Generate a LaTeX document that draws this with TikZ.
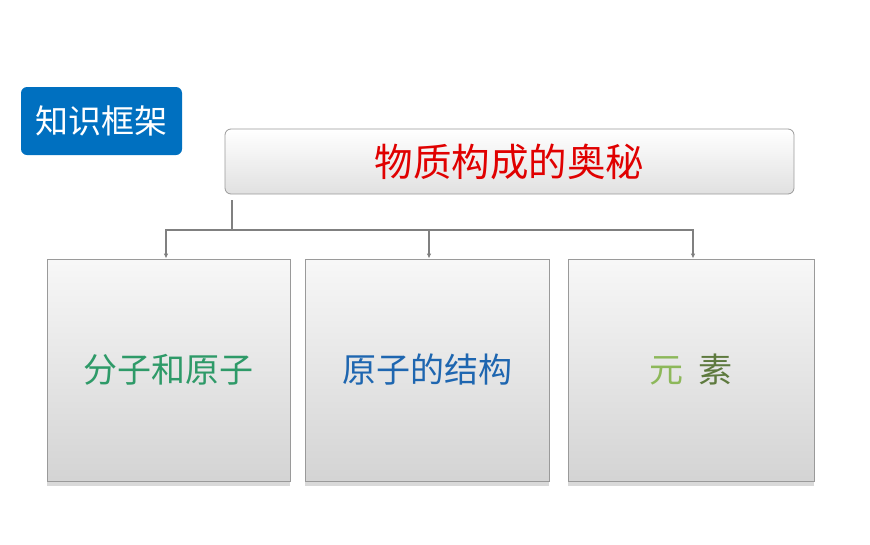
\documentclass[tikz,border=0pt]{standalone}
\usepackage{fontspec}
\setmainfont{Noto Sans CJK SC}
\usetikzlibrary{shadows,arrows.meta,shadings}
\definecolor{lblblue}{HTML}{0070C0}
\definecolor{titlered}{HTML}{E00000}
\definecolor{linegray}{HTML}{808080}
\definecolor{boxborder}{HTML}{9A9A9A}
\definecolor{txtgreen}{HTML}{2E9A68}
\definecolor{txtblue}{HTML}{1E66B0}
\definecolor{txtlight}{HTML}{8DB85A}
\definecolor{txtdark}{HTML}{5E7A3E}
\tikzset{
  labelbox/.style={fill=lblblue, rounded corners=6pt, minimum width=161pt, minimum height=68pt, text=white, font=\fontsize{33}{35}\selectfont, inner sep=0pt},
  titlebox/.style={draw=boxborder, line width=0.8pt, rounded corners=6pt, top color=white, bottom color=black!12, minimum width=569pt, minimum height=65pt, text=titlered, font=\fontsize{38.5}{41}\selectfont, inner sep=0pt},
  subbox/.style={draw=boxborder, line width=0.8pt, top color=black!3, bottom color=black!17, minimum height=222pt, inner sep=0pt, font=\fontsize{34}{37}\selectfont,
    drop shadow={shadow xshift=0pt, shadow yshift=-5pt, opacity=0.25, fill=black!60}},
  conn/.style={draw=linegray, line width=1.4pt},
  arr/.style={conn, -{Latex[length=5pt,width=4.5pt]}}
}
\begin{document}
\begin{tikzpicture}[x=1pt,y=-1pt]
\useasboundingbox (0,0) rectangle (870,544);
\node[labelbox] (lbl) at (101.5,121) {知识框架};
\node[titlebox] (title) at (509.5,161.5) {物质构成的奥秘};
\node[subbox, minimum width=243pt] (b1) at (168.5,370) {\textcolor{txtgreen}{分子和原子}};
\node[subbox, minimum width=244pt] (b2) at (427,370) {\textcolor{txtblue}{原子的结构}};
\node[subbox, minimum width=246pt] (b3) at (691,370) {\textcolor{txtlight}{元}\hspace{0.45em}\textcolor{txtdark}{素}};
\coordinate (c0) at (232,200);
\coordinate (j) at (232,230);
\draw[conn] (c0) -- (j);
\draw[arr] (j) -| ([xshift=-2.5pt]b1.north);
\draw[arr] (j) -| ([xshift=2pt]b2.north);
\draw[arr] (j) -| ([xshift=2pt]b3.north);
\end{tikzpicture}
\end{document}
